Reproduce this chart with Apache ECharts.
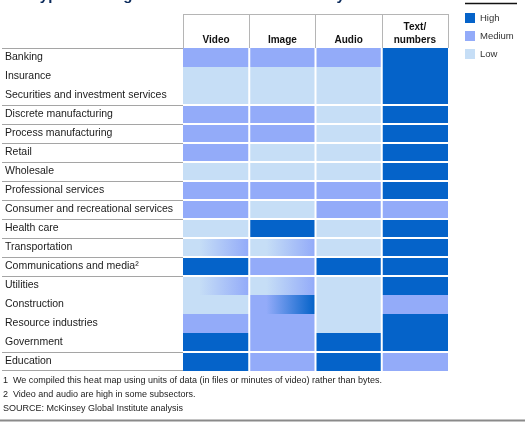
<!DOCTYPE html>
<html>
<head>
<meta charset="utf-8">
<script src="https://cdn.jsdelivr.net/npm/echarts@6/dist/echarts.min.js"></script>
<style>
html, body { margin: 0; padding: 0; background: #fff; }
#main { width: 525px; height: 422px; }
</style>
</head>
<body>
<div id="main"></div>
<script>
// sectors, top to bottom
var sectors = [
    'Banking', 'Insurance', 'Securities and investment services',
    'Discrete manufacturing', 'Process manufacturing', 'Retail', 'Wholesale',
    'Professional services', 'Consumer and recreational services',
    'Health care', 'Transportation', 'Communications and media\u00b2',
    'Utilities', 'Construction', 'Resource industries', 'Government', 'Education'
];
// how many rows sit in each block of the table
var groupSizes = [3, 1, 1, 1, 1, 1, 1, 1, 1, 1, 4, 1];
var dataTypes = ['Video', 'Image', 'Audio', 'Text/\nnumbers'];
// 1 = Low, 2 = Medium, 3 = High ; [a, b] = shaded from a to b
var video = [2, 1, 1, 2, 2, 2, 1, 2, 2, 1, [1, 2], 3, [1, 2], 1, 2, 3, 3];
var image = [2, 1, 1, 2, 2, 1, 1, 2, 1, 3, [1, 2], 2, [1, 2], [2, 3], 2, 2, 2];
var audio = [2, 1, 1, 1, 1, 1, 1, 2, 2, 1, 1, 3, 1, 1, 1, 3, 3];
var text  = [3, 3, 3, 3, 3, 3, 3, 3, 2, 3, 3, 3, 3, 2, 3, 3, 2];
var levels = ['Low', 'Medium', 'High'];
var levelColors = ['#C6DEF6', '#93ABF9', '#0563C9'];
var footnotes = [
    '1  We compiled this heat map using units of data (in files or minutes of video) rather than bytes.',
    '2  Video and audio are high in some subsectors.',
    'SOURCE: McKinsey Global Institute analysis'
];

var FONT = '"Liberation Sans", Arial, sans-serif';

// group start / end flags per row
var groupStart = [], groupEnd = [];
groupSizes.forEach(function (n) {
    for (var k = 0; k < n; k++) {
        groupStart.push(k === 0 ? 1 : 0);
        groupEnd.push(k === n - 1 ? 1 : 0);
    }
});

var cells = [];
[video, image, audio, text].forEach(function (col, c) {
    col.forEach(function (v, r) {
        var a = Array.isArray(v) ? v[0] : v;
        var b = Array.isArray(v) ? v[1] : v;
        cells.push([c, r, a, b, groupStart[r], groupEnd[r]]);
    });
});

function renderCell(params, api) {
    var c = api.value(0), r = api.value(1);
    var a = api.value(2), b = api.value(3);
    var p = api.coord([c, r]);
    var s = api.size([1, 1]);
    var x0 = p[0] - s[0] / 2, y0 = p[1] - s[1] / 2;
    var x = x0 + (c > 0 ? 1 : 0);
    var w = s[0] - (c > 0 ? 1 : 0) - (c < dataTypes.length - 1 ? 1 : 0);
    var y = y0 + (api.value(4) && r > 0 ? 1 : 0);
    var y1 = y0 + s[1] - (api.value(5) && r < sectors.length - 1 ? 1 : 0);
    var fill;
    if (a === b) {
        fill = levelColors[a - 1];
    } else {
        fill = new echarts.graphic.LinearGradient(0, 0, 1, 0, [
            { offset: 0.25, color: levelColors[a - 1] },
            { offset: 1, color: levelColors[b - 1] }
        ]);
    }
    var children = [{
        type: 'rect',
        shape: { x: x, y: y, width: w, height: y1 - y },
        style: { fill: fill }
    }];
    // grey rules under the sector names
    if (c === 0) {
        if (api.value(4)) {
            children.push({
                type: 'line',
                shape: { x1: x0 - 181, y1: Math.round(y0) + 0.5, x2: x0, y2: Math.round(y0) + 0.5 },
                style: { stroke: '#A5A5A5', lineWidth: 1 }
            });
        }
        if (r === sectors.length - 1) {
            var yb = Math.round(y0 + s[1]) - 0.5;
            children.push({
                type: 'line',
                shape: { x1: x0 - 181, y1: yb, x2: x0, y2: yb },
                style: { stroke: '#A5A5A5', lineWidth: 1 }
            });
        }
    }
    return { type: 'group', children: children };
}

var chart = echarts.init(document.getElementById('main'));

var legendSeries = levels.slice().reverse().map(function (name) {
    return {
        name: name,
        type: 'custom',
        renderItem: function () { return null; },
        data: [],
        itemStyle: { color: levelColors[levels.indexOf(name)] }
    };
});

chart.setOption({
    animation: false,
    textStyle: { fontFamily: FONT },
    title: {
        text: 'The type of data generated and stored varies by sector\u00b9',
        left: 4,
        top: -12,
        padding: 0,
        textStyle: { fontFamily: FONT, fontSize: 15, fontWeight: 'bold', color: '#0B2A5B' }
    },
    legend: {
        orient: 'vertical',
        left: 465,
        top: 13,
        padding: 0,
        itemWidth: 10,
        itemHeight: 10,
        itemGap: 8,
        icon: 'rect',
        selectedMode: false,
        data: ['High', 'Medium', 'Low'],
        textStyle: { fontFamily: FONT, fontSize: 9.5, color: '#333' }
    },
    grid: { left: 183, right: 77, top: 48, bottom: 51 },
    xAxis: {
        type: 'category',
        position: 'top',
        data: dataTypes,
        axisLine: { show: false },
        axisTick: { show: true, length: 34, interval: 0, lineStyle: { color: '#B5B5B5' } },
        axisLabel: {
            interval: 0, margin: 1, fontSize: 10, fontWeight: 'bold',
            color: '#111', lineHeight: 13, fontFamily: FONT
        },
        splitLine: { show: false }
    },
    yAxis: {
        type: 'category',
        inverse: true,
        data: sectors,
        axisLine: { show: false },
        axisTick: { show: false },
        axisLabel: {
            interval: 0, align: 'left', margin: 178,
            fontSize: 10.5, color: '#1a1a1a', fontFamily: FONT
        },
        splitLine: { show: false }
    },
    graphic: [
        { type: 'line', shape: { x1: 183, y1: 14.5, x2: 448, y2: 14.5 },
          style: { stroke: '#B5B5B5', lineWidth: 1 } },
        { type: 'line', shape: { x1: 465, y1: 3.5, x2: 517, y2: 3.5 },
          style: { stroke: '#111', lineWidth: 1.5 } },
        { type: 'line', shape: { x1: 0, y1: 420.5, x2: 525, y2: 420.5 },
          style: { stroke: '#8A8A8A', lineWidth: 2 } }
    ].concat(footnotes.map(function (t, i) {
        return {
            type: 'text', left: 3, top: 376 + i * 14,
            style: { text: t, fontSize: 9, fill: '#222', fontFamily: FONT }
        };
    })),
    series: [{
        name: 'heat',
        type: 'custom',
        renderItem: renderCell,
        encode: { x: 0, y: 1 },
        data: cells
    }].concat(legendSeries)
});
</script>
</body>
</html>
